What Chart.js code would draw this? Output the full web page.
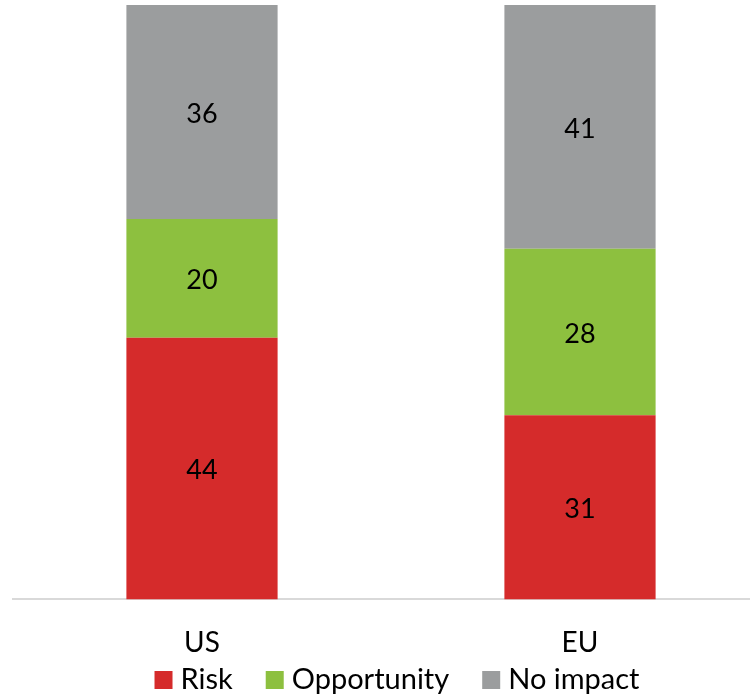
<!DOCTYPE html>
<html>
<head>
<meta charset="utf-8">
<script src="https://cdn.jsdelivr.net/npm/chart.js@4"></script>
<style>
  html, body { margin: 0; padding: 0; background: #fff; overflow: hidden; }
  #wrap { width: 794px; height: 695px; }
</style>
</head>
<body>
<div id="wrap"><canvas id="chart"></canvas></div>
<script>
// Regions on the x axis
const regions = ['US', 'EU'];

// Share of answers (%) per region
const riskValues = [44, 31];
const opportunityValues = [20, 28];
const noImpactValues = [36, 41];

const seriesNames = ['Risk', 'Opportunity', 'No impact'];
const seriesColors = ['#D52B2B', '#8DC03F', '#9B9D9E'];

const FONT = 'Lato, "Open Sans", sans-serif';

// Write the value in the middle of each bar segment
const valueLabels = {
    id: 'valueLabels',
    afterDatasetsDraw(chart) {
        const ctx = chart.ctx;
        ctx.save();
        ctx.font = '27px ' + FONT;
        ctx.fillStyle = '#000';
        ctx.textAlign = 'center';
        ctx.textBaseline = 'middle';
        chart.data.datasets.forEach((ds, i) => {
            chart.getDatasetMeta(i).data.forEach((bar, j) => {
                const mid = (bar.y + bar.base) / 2 + 2;
                ctx.fillText(ds.data[j], bar.x, mid);
            });
        });
        ctx.restore();
    }
};

// Legend row under the axis labels, Excel style (small square + name)
const bottomLegend = {
    id: 'bottomLegend',
    afterDraw(chart) {
        const ctx = chart.ctx;
        const box = 18, gap = 8, spacing = 33;
        ctx.save();
        ctx.font = '29px ' + FONT;
        ctx.textBaseline = 'middle';
        ctx.textAlign = 'left';
        const items = chart.data.datasets.map(ds => ({
            text: ds.label,
            color: ds.backgroundColor,
            w: ctx.measureText(ds.label).width,
        }));
        let total = items.reduce((s, it) => s + box + gap + it.w, 0) + spacing * (items.length - 1);
        let x = chart.width / 2 - total / 2;
        const y = 680;
        items.forEach(it => {
            ctx.fillStyle = it.color;
            ctx.fillRect(x, y - box / 2, box, box);
            ctx.fillStyle = '#000';
            ctx.fillText(it.text, x + box + gap, y);
            x += box + gap + it.w + spacing;
        });
        ctx.restore();
    }
};

const ctx = document.getElementById('chart').getContext('2d');
new Chart(ctx, {
    type: 'bar',
    data: {
        labels: regions,
        datasets: [
            { label: seriesNames[0], data: riskValues, backgroundColor: seriesColors[0] },
            { label: seriesNames[1], data: opportunityValues, backgroundColor: seriesColors[1] },
            { label: seriesNames[2], data: noImpactValues, backgroundColor: seriesColors[2] },
        ],
    },
    options: {
        responsive: true,
        maintainAspectRatio: false,
        animation: false,
        datasets: {
            bar: { barPercentage: 0.4, categoryPercentage: 1.0 }
        },
        layout: {
            padding: { left: 13, right: 25, top: 5, bottom: 8 }
        },
        plugins: {
            legend: { display: false },
            tooltip: { enabled: false }
        },
        scales: {
            x: {
                stacked: true,
                grid: { display: false, drawTicks: false },
                border: { display: true, color: '#D9D9D9', width: 2 },
                ticks: {
                    font: { family: FONT, size: 28 },
                    color: '#000',
                    padding: 27,
                },
            },
            y: {
                stacked: true,
                display: false,
                min: 0,
                max: 100,
            },
        },
    },
    plugins: [valueLabels, bottomLegend],
});
</script>
</body>
</html>
